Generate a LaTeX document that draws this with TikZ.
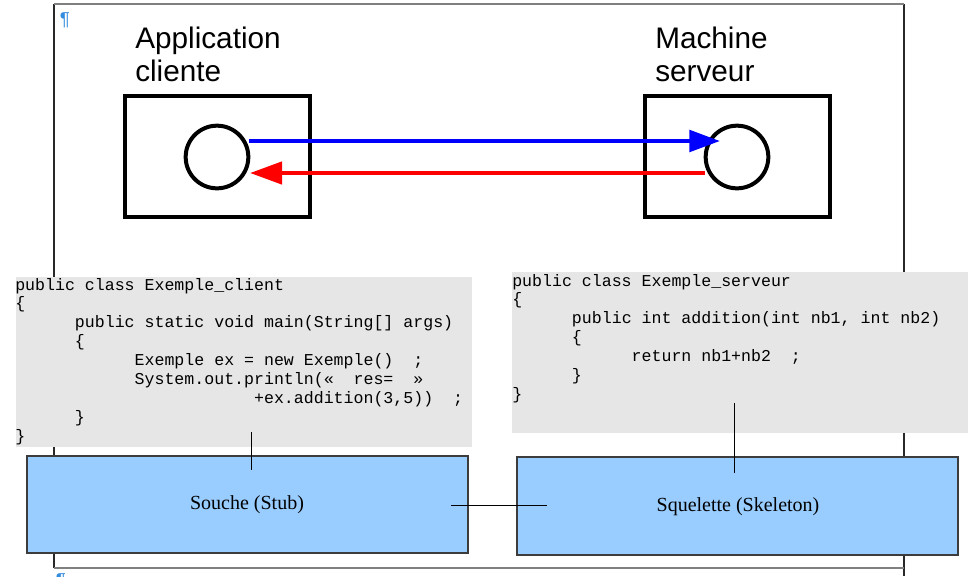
\documentclass[tikz,border=0pt]{standalone}
\usepackage{fontspec}
\setmainfont{Liberation Sans}
\newfontfamily\codefont{Liberation Mono}
\newfontfamily\lserif{Liberation Serif}
\usetikzlibrary{arrows.meta,fit}
\definecolor{pilcrow}{RGB}{51,140,220}
\definecolor{codegray}{RGB}{230,230,230}
\definecolor{boxblue}{RGB}{153,204,255}
\definecolor{framegray}{RGB}{128,128,128}
\tikzset{
  title/.style={inner sep=0pt, font={\fontsize{22.3pt}{24.75pt}\selectfont}},
  machine/.style={draw=black, line width=3pt, inner sep=0pt},
  socket/.style={circle, draw=black, line width=3pt, minimum size=47pt, inner sep=0pt},
  codebox/.style={fill=codegray, inner sep=0pt},
  codetext/.style={inner sep=0pt, font={\codefont\fontsize{12.44pt}{14.2pt}\selectfont}},
  stubbox/.style={fill=boxblue, draw={rgb,255:red,60;green,60;blue,60}, line width=0.8pt, inner sep=0pt},
  boxlabel/.style={font={\lserif\fontsize{15pt}{18pt}\selectfont}},
  wire/.style={draw=black, line width=0.75pt},
  callarrow/.style={draw=blue, line width=3.3pt, -{Triangle[length=23pt,width=16pt]}},
  retarrow/.style={draw=red, line width=3.3pt, -{Triangle[length=24pt,width=16.5pt]}},
  pil/.style={text=pilcrow, inner sep=0pt, font={\fontsize{14pt}{16pt}\selectfont}},
  frameline/.style={draw=framegray, line width=1.5pt},
  frameside/.style={draw={rgb,255:red,40;green,40;blue,40}, line width=0.8pt}
}
\begin{document}
\begin{tikzpicture}[x=0.75pt, y=-0.75pt]
\clip (0,0) rectangle (969,576);
\fill[white] (0,0) rectangle (969,576);
% page frame
\draw[frameside] (54,4) -- (54,568);
\draw[frameside] (904,4) -- (904,576);
\draw[frameline] (54,4) -- (904,4);
\draw[frameline] (54,568) -- (904,568);
\node[pil] (p1) at (65,20) {¶};
\node[pil] (p2) at (61,581) {¶};
% titles
\node[title, anchor=base west] (app) at (135,48) {\begin{tabular}[t]{@{}l@{}}Application\\cliente\end{tabular}};
\node[title, anchor=base west] (mach) at (655,48) {\begin{tabular}[t]{@{}l@{}}Machine\\serveur\end{tabular}};
% machines
\node[machine, fit={(125,96)(310,217)}] (client) {};
\node[machine, fit={(645,96)(830,217)}] (server) {};
\node[socket] (cs) at (217,157) {};
\node[socket] (ss) at (737,157) {};
\coordinate (b1) at (249,141);
\coordinate (b2) at (720,141);
\coordinate (r1) at (705,173);
\coordinate (r2) at (250,173);
\draw[callarrow] (b1) -- (b2);
\draw[retarrow] (r1) -- (r2);
% code boxes
\node[codebox, fit={(16,277)(472,447)}] (codeC) {};
\node[codebox, fit={(512,272)(968,433)}] (codeS) {};
\node[codetext, anchor=base west] (txtC) at (15,290) {\begin{tabular}[t]{@{}l@{}}
public class Exemple\_client\\
\{\\
\hspace*{3.6em}public static void main(String[] args)\\
\hspace*{3.6em}\{\\
\hspace*{7.2em}Exemple ex = new Exemple()\ \ ;\\
\hspace*{7.2em}System.out.println(«\ \ res=\ \ »\\
\hspace*{14.4em}+ex.addition(3,5))\ \ ;\\
\hspace*{3.6em}\}\\
\}
\end{tabular}};
\node[codetext, anchor=base west] (txtS) at (512,286) {\begin{tabular}[t]{@{}l@{}}
public class Exemple\_serveur\\
\{\\
\hspace*{3.6em}public int addition(int nb1, int nb2)\\
\hspace*{3.6em}\{\\
\hspace*{7.2em}return nb1+nb2\ \ ;\\
\hspace*{3.6em}\}\\
\}
\end{tabular}};
% stub / skeleton
\node[stubbox, fit={(27,456)(468,553)}] (stub) {};
\node[stubbox, fit={(517,457)(958,555)}] (skel) {};
\node[boxlabel] (stubl) at (247,505) {Souche (Stub)};
\node[boxlabel] (skell) at (738,507) {Squelette (Skeleton)};
% connectors
\coordinate (v1a) at (251,432);
\coordinate (v1b) at (251,470);
\coordinate (v2a) at (734,403);
\coordinate (v2b) at (734,473);
\coordinate (ha) at (451,505);
\coordinate (hb) at (547,505);
\draw[wire] (v1a) -- (v1b);
\draw[wire] (v2a) -- (v2b);
\draw[wire] (ha) -- (hb);
\end{tikzpicture}
\end{document}
